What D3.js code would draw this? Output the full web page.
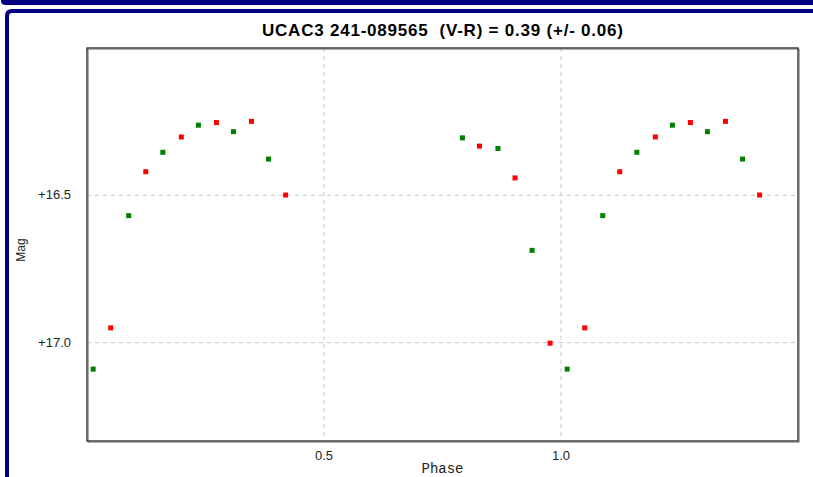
<!DOCTYPE html>
<html>
<head>
<meta charset="utf-8">
<script src="https://cdn.jsdelivr.net/npm/d3@7"></script>
<style>
  body { margin: 0; background: #fff; }
  svg { display: block; }
</style>
</head>
<body>
<svg class="lightcurve" width="813" height="477"></svg>
<script>
// observations, phase folded (0..1), alternating filters
let greenPhase = [0.013, 0.088, 0.160, 0.235, 0.309, 0.383, 0.792, 0.867, 0.939];
let greenMag   = [17.090, 16.569, 16.354, 16.262, 16.284, 16.377, 16.305, 16.341, 16.687];
let redPhase   = [0.050, 0.124, 0.199, 0.273, 0.347, 0.419, 0.828, 0.903, 0.977];
let redMag     = [16.950, 16.420, 16.302, 16.253, 16.249, 16.499, 16.333, 16.441, 17.002];
let xTicks = [0.5, 1.0];
let yTicks = [16.5, 17.0];
let titleText = "UCAC3 241-089565  (V-R) = 0.39 (+/- 0.06)";

let svg = d3.select("body").select(".lightcurve");

// window frame
svg.append("path")
  .attr("d", "M1,0 H813 V5 H6 Q1,5 1,1 Z")
  .attr("fill", "#000080");
svg.append("path")
  .attr("d", "M7,477 V16 Q7,11 12,11 H813")
  .attr("fill", "none")
  .attr("stroke", "#000080")
  .attr("stroke-width", 4);

let margin = {top: 48, right: 15, bottom: 36, left: 87};
let plotWidth = 813 - margin.left - margin.right;
let plotHeight = 477 - margin.top - margin.bottom;

let x = d3.scaleLinear().domain([0, 1.5]).range([0, plotWidth]);
let y = d3.scaleLinear().domain([16.0, 17.334]).range([0, plotHeight]);

let plot = svg.append("g").attr("transform", translate(margin.left, margin.top));

// grid
plot.selectAll(".vgrid").data(xTicks).enter().append("line")
  .attr("x1", d => x(d)).attr("x2", d => x(d))
  .attr("y1", 0).attr("y2", plotHeight)
  .attr("stroke", "#c8c8c8").attr("stroke-dasharray", "4,4");
plot.selectAll(".hgrid").data(yTicks).enter().append("line")
  .attr("x1", 0).attr("x2", plotWidth)
  .attr("y1", d => y(d)).attr("y2", d => y(d))
  .attr("stroke", "#c8c8c8").attr("stroke-dasharray", "4,4");

// tick labels
plot.selectAll(".xlab").data(xTicks).enter().append("text")
  .attr("x", d => x(d)).attr("y", plotHeight + 19)
  .attr("text-anchor", "middle")
  .style("font", "13px 'Liberation Sans', Arial, sans-serif")
  .attr("fill", "#222")
  .text(d => d.toFixed(1));
plot.selectAll(".ylab").data(yTicks).enter().append("text")
  .attr("x", -16).attr("y", d => y(d) + 4)
  .attr("text-anchor", "end")
  .style("font", "13px 'Liberation Sans', Arial, sans-serif")
  .attr("fill", "#222")
  .text(d => "+" + d.toFixed(1));

// points: each observation plus its copy one cycle later
function folded(phase, mag) {
  let pts = [];
  phase.forEach((p, i) => {
    [p, p + 1].forEach(q => { if (q <= 1.5) pts.push({p: q, m: mag[i]}); });
  });
  return pts;
}
[[greenPhase, greenMag, "#008000"], [redPhase, redMag, "#ff0000"]].forEach(s => {
  plot.append("g").selectAll("rect")
    .data(folded(s[0], s[1]))
    .enter().append("rect")
    .attr("x", d => x(d.p) - 2.5)
    .attr("y", d => y(d.m) - 2.5)
    .attr("width", 5).attr("height", 5)
    .attr("fill", s[2]);
});

// plot box
plot.append("rect")
  .attr("x", 0.5).attr("y", 0.5)
  .attr("width", plotWidth).attr("height", plotHeight)
  .attr("fill", "none").attr("stroke", "#999").attr("stroke-width", 1)
  .attr("transform", translate(0.8, 0.8));
plot.append("rect")
  .attr("x", 0).attr("y", 0)
  .attr("width", plotWidth).attr("height", plotHeight)
  .attr("fill", "none").attr("stroke", "#222").attr("stroke-width", 1.3);

// title and axis names
svg.append("text")
  .attr("x", margin.left + plotWidth / 2).attr("y", 36)
  .attr("text-anchor", "middle")
  .attr("xml:space", "preserve")
  .style("white-space", "pre")
  .style("font", "bold 17px 'Liberation Sans', Arial, sans-serif")
  .attr("textLength", 361)
  .attr("lengthAdjust", "spacing")
  .text(titleText);
svg.append("text")
  .attr("x", margin.left + plotWidth / 2).attr("y", 473)
  .attr("text-anchor", "middle")
  .style("font", "14px 'Liberation Mono', 'Courier New', monospace")
  .attr("fill", "#222")
  .text("Phase");
svg.append("text")
  .attr("transform", "translate(25,250) rotate(-90)")
  .attr("text-anchor", "middle")
  .style("font", "12px 'Liberation Sans', Arial, sans-serif")
  .attr("fill", "#222")
  .text("Mag");

function translate(x, y) {
  return 'translate(' + x + ',' + y + ')';
}
</script>
</body>
</html>
